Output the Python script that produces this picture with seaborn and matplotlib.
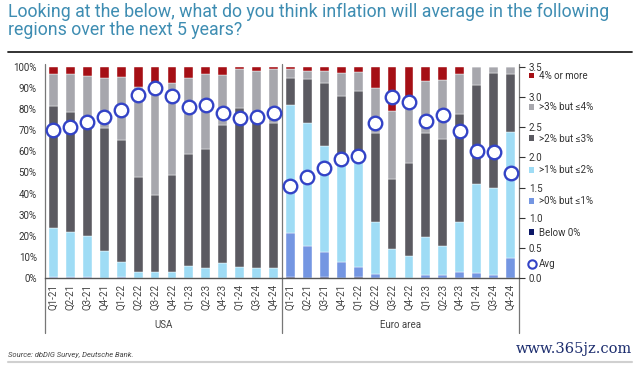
import numpy as np
import pandas as pd
import matplotlib
matplotlib.use("Agg")
import matplotlib.pyplot as plt
from matplotlib.patches import Patch
from matplotlib.lines import Line2D
import seaborn as sns

# --- Data (% of respondents) ---
quarters = ["Q1-21", "Q2-21", "Q3-21", "Q4-21", "Q1-22", "Q2-22", "Q3-22",
            "Q4-22", "Q1-23", "Q2-23", "Q4-23", "Q1-24", "Q3-24", "Q4-24"]
regions = ["USA", "Euro area"]
bands = ["4% or more", ">3% but ≤4%", ">2% but ≤3%",
         ">1% but ≤2%", ">0% but ≤1%", "Below 0%"]

usa_below0 = [0.3, 0.3, 0.2, 0, 0, 0, 0, 0, 0, 0, 0, 0, 0, 0]
usa_0_1 = [0.5, 0.4, 0.5, 0.3, 0.5, 0.2, 0.2, 0.2, 0.3, 0.2, 0.2, 0.2, 0.2, 0.2]
usa_1_2 = [22.8, 21.0, 19.3, 12.6, 7.4, 2.9, 2.9, 2.9, 5.5, 4.5, 6.9, 5.0, 4.8, 4.5]
usa_2_3 = [58.0, 57.0, 52.5, 58.3, 57.5, 44.6, 36.1, 45.7, 52.8, 56.4, 65.3, 75.1, 71.4, 68.5]
usa_3_4 = [14.9, 17.8, 23.1, 23.3, 29.6, 42.9, 53.3, 43.6, 35.9, 35.3, 23.7, 18.4, 21.6, 25.5]
usa_4up = [3.5, 3.5, 4.4, 5.5, 5.0, 9.4, 7.5, 7.6, 5.5, 3.6, 3.9, 1.3, 2.0, 1.3]
usa_avg = [2.45, 2.50, 2.58, 2.67, 2.78, 3.04, 3.14, 3.02, 2.84, 2.86, 2.73, 2.65, 2.67, 2.74]

eur_below0 = [0.5, 0.3, 0.8, 0.2, 0.6, 0, 0, 0, 0, 0, 0, 0, 0, 0]
eur_0_1 = [21.1, 15.0, 11.5, 7.7, 4.6, 2.0, 0.3, 0.3, 1.6, 1.6, 3.1, 2.7, 1.6, 9.8]
eur_1_2 = [60.3, 58.2, 50.2, 49.6, 52.8, 24.8, 13.4, 10.3, 17.8, 13.7, 23.7, 41.9, 40.9, 59.5]
eur_2_3 = [12.9, 20.5, 29.6, 28.8, 30.7, 41.7, 33.2, 43.7, 49.4, 50.4, 50.8, 46.7, 54.4, 27.1]
eur_3_4 = [3.9, 4.1, 5.9, 10.6, 8.6, 21.3, 32.1, 31.5, 24.4, 28.0, 18.9, 8.7, 3.1, 3.6]
eur_4up = [1.3, 1.9, 2.0, 3.1, 2.7, 10.2, 21.0, 14.2, 6.8, 6.3, 3.5, 0, 0, 0]
eur_avg = [1.52, 1.67, 1.83, 1.98, 2.02, 2.57, 3.00, 2.92, 2.61, 2.70, 2.44, 2.11, 2.09, 1.75]

colors = {
    "4% or more": "#a50f15",
    ">3% but ≤4%": "#a7a7ad",
    ">2% but ≤3%": "#5b5a61",
    ">1% but ≤2%": "#9fdcf5",
    ">0% but ≤1%": "#7496e2",
    "Below 0%": "#0b1766",
}
avg_color = "#3343c6"

# --- Long table for seaborn ---
series = {
    "USA": [usa_4up, usa_3_4, usa_2_3, usa_1_2, usa_0_1, usa_below0],
    "Euro area": [eur_4up, eur_3_4, eur_2_3, eur_1_2, eur_0_1, eur_below0],
}
rows = []
for r, region in enumerate(regions):
    for b, band in enumerate(bands):
        for q, val in enumerate(series[region][b]):
            rows.append({"pos": r * len(quarters) + q, "band": band, "share": val})
df = pd.DataFrame(rows)
avg_df = pd.DataFrame({"pos": np.arange(2 * len(quarters)), "avg": usa_avg + eur_avg})

sns.set_theme(style="white")
plt.rcParams["font.family"] = ["Roboto", "DejaVu Sans"]

fig = plt.figure(figsize=(6.4, 3.65), dpi=100)
ax = fig.add_axes([45 / 640, 1 - 278.3 / 365, 474 / 640, 211.6 / 365])

sns.histplot(data=df, x="pos", weights="share", hue="band", hue_order=bands,
             multiple="stack", discrete=True, shrink=0.52, palette=colors,
             alpha=1, linewidth=0.3, edgecolor="white", legend=False, ax=ax)
ax.set_xlim(-0.5, 27.5)
ax.set_ylim(0, 100)
ax.set_yticks(np.arange(0, 101, 10))
ax.set_yticklabels([f"{v}%" for v in range(0, 101, 10)])
ax.set_xticks(np.arange(28))
ax.set_xticklabels(quarters * 2, rotation=90)
ax.tick_params(axis="x", length=0, pad=4, labelsize=7, colors="#444444")
ax.tick_params(axis="y", length=0, pad=6, labelsize=7, colors="#333333")
ax.set_xlabel("")
ax.set_ylabel("")
for s in ["top", "right", "left"]:
    ax.spines[s].set_visible(False)
ax.spines["bottom"].set_color("#555555")
ax.spines["bottom"].set_linewidth(1.0)

# vertical frame lines reaching down through the category labels
tr = ax.get_xaxis_transform()
for xv in [-0.5, 13.5, 27.5]:
    ax.plot([xv, xv], [-0.258, 1.015], transform=tr, color="#777777",
            lw=0.9, clip_on=False, zorder=0)
ax.text(6.5, -0.22, "USA", transform=tr, ha="center", va="center",
        fontsize=7, color="#444444")
ax.text(20.5, -0.22, "Euro area", transform=tr, ha="center", va="center",
        fontsize=7, color="#444444")

# average on right axis
ax2 = ax.twinx()
sns.scatterplot(data=avg_df, x="pos", y="avg", ax=ax2, marker="o", s=95,
                color="white", edgecolor=avg_color, linewidth=1.7, zorder=5)
ax2.set_ylim(0, 3.5)
ax2.set_yticks(np.arange(0, 3.51, 0.5))
ax2.set_yticklabels([f"{v:.1f}" for v in np.arange(0, 3.51, 0.5)])
ax2.tick_params(axis="y", direction="out", length=4, width=0.8, pad=3,
                labelsize=7, colors="#333333")
ax2.set_ylabel("")
for s in ["top", "left", "bottom", "right"]:
    ax2.spines[s].set_visible(False)

# legend
handles = [Patch(facecolor=colors[b], edgecolor="none") for b in bands]
handles.append(Line2D([], [], marker="o", linestyle="", markerfacecolor="white",
                      markeredgecolor=avg_color, markersize=6, markeredgewidth=1.5))
fig.legend(handles, bands + ["Avg"], loc="upper left",
           bbox_to_anchor=(525 / 640, 1 - 67 / 365), frameon=False,
           fontsize=7, labelcolor="#333333", handlelength=0.55,
           handleheight=0.55, handletextpad=0.45, labelspacing=2.2,
           borderaxespad=0)

# title, rules and source
fig.text(8 / 640, 1 - 17 / 365,
         "Looking at the below, what do you think inflation will average in the following",
         va="baseline", ha="left", fontsize=12.8, color="#3e8db2")
fig.text(8 / 640, 1 - 35 / 365, "regions over the next 5 years?",
         va="baseline", ha="left", fontsize=12.8, color="#3e8db2")
fig.add_artist(Line2D([8 / 640, 632 / 640], [1 - 52 / 365, 1 - 52 / 365],
                      color="#222222", lw=1.3))
fig.add_artist(Line2D([8 / 640, 632 / 640], [1 - 362 / 365, 1 - 362 / 365],
                      color="#d0d0d0", lw=1.5))
fig.text(8 / 640, 1 - 355 / 365, "Source: dbDIG Survey, Deutsche Bank.",
         va="center", ha="left", fontsize=5.5, style="italic", color="#444444")
fig.text(632 / 640, 1 - 349 / 365, "www.365jz.com", va="center", ha="right",
         fontsize=10.5, family="DejaVu Serif", color="#1c2d6e")

fig.savefig("out.png", dpi=100)
